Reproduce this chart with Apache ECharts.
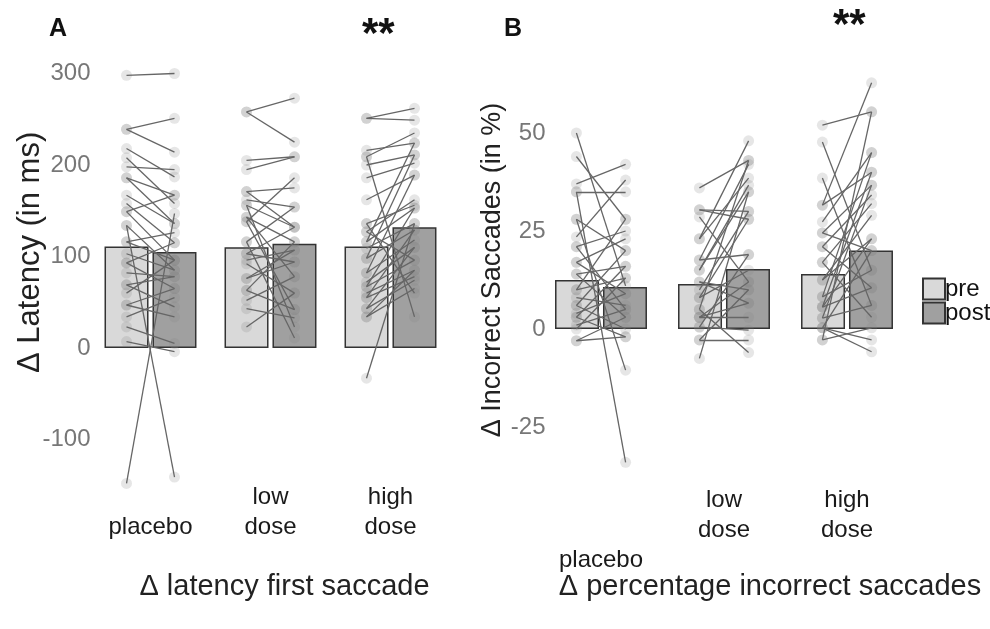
<!DOCTYPE html>
<html>
<head>
<meta charset="utf-8">
<script src="https://cdn.jsdelivr.net/npm/echarts@6/dist/echarts.min.js"></script>
<style>
  html, body { margin: 0; padding: 0; background: #fff; }
  #chart { width: 990px; height: 629px; }
</style>
</head>
<body>
<div id="chart"></div>
<script>
// groups and bar means
const categories = ['placebo', 'low dose', 'high dose'];
const latencyMeanPre = [111, 110, 111];
const latencyMeanPost = [105, 114, 132];
const incorrectMeanPre = [12.5, 11.5, 14];
const incorrectMeanPost = [10.7, 15.3, 20];

// single subjects, delta latency (ms)
const latPlaceboPre = [298, 239, 239, 218, 208, 198, 186, 186, 167, 158, 149, 149, 134, 134, 116, 116, 103, 93, 93, 82, 69, 69, 60, 47, 47, 34, 23, 7, -148];
const latPlaceboPost = [300, 251, 214, 187, 158, 195, 167, 136, 136, 115, 96, 167, -141, 85, 126, 96, 85, 65, 115, 78, 45, 78, 96, 34, 65, 55, 5, -4, 147];
const latLowPre = [258, 258, 205, 195, 171, 171, 162, 156, 156, 143, 143, 138, 138, 116, 116, 103, 103, 96, 92, 76, 76, 63, 63, 52, 43, 23];
const latLowPost = [273, 225, 209, 209, 175, 132, 154, 132, 23, 116, 78, 186, 42, 154, 11, 132, 94, 107, 60, 94, 107, 116, 42, 78, 33, 60];
const latHighPre = [251, 251, 216, 209, 209, 200, 186, 162, 136, 136, 127, 127, 116, 116, 109, 98, 98, 82, 82, 72, 67, 67, 60, 55, 55, 43, 43, 34, 34, -33];
const latHighPost = [262, 249, 224, 235, 34, 211, 202, 189, 156, 60, 162, 96, 153, 224, 136, 129, 211, 118, 189, 110, 96, 153, 85, 78, 129, 74, 110, 65, 85, 136];

// single subjects, delta incorrect saccades (%)
const incPlaceboPre = [50, 44, 37, 35, 35, 28, 28, 23.5, 21, 21, 17, 17, 14, 14, 10, 10, 8, 6, 6, 4, 3, 3, 1, 0, -3, -3];
const incPlaceboPost = [11, 28, 42, 35, -34, -10.5, 20, 38, 25, 5, 23, 9, 16, 3, 28, 13, 6, 20, 0, 9, 16, -2, 5, 13, 3, -2];
const incLowPre = [36, 30.4, 30.4, 28.6, 23, 23, 17.6, 17.6, 15, 15, 12, 10, 8, 8, 5, 3, 3, 3, 0.5, 0.5, -2.8, -2.8, -7.5, 5, 12];
const incLowPost = [43, 30, 28, 12, 48, 38.5, 42, 19, 36.7, 35, 10, 30, 28, 15, 43, 12, 6.6, 3, 19, -0.3, 10, -2.8, 35, -6, 6.6];
const incHighPre = [52, 47.7, 38.5, 31.6, 31.6, 27.3, 24.5, 24.5, 21, 21, 17, 17, 12.5, 12.5, 8.2, 8.2, 5.6, 5.6, 2.8, 2.8, 0.3, 0.3, -2.8, -2.8, 0.3, 5.6];
const incHighPost = [55.4, 15, 6, 62.8, 40, 45, 36.7, 20, 34.2, 10.5, 32, 3, 29, 23, 45, 15, 40, 10.5, 36.7, 6, 20, -2.8, 55.4, 0.3, -5.8, 23];

const latGroups = [[latPlaceboPre, latPlaceboPost], [latLowPre, latLowPost], [latHighPre, latHighPost]];
const incGroups = [[incPlaceboPre, incPlaceboPost], [incLowPre, incLowPost], [incHighPre, incHighPost]];

const FONT = 'Liberation Sans';
const OFF = 0.2;

function pairLines(groups) {
    const out = [];
    groups.forEach((g, i) => {
        g[0].forEach((v, k) => {
            out.push({ coords: [[i + 0.5 - OFF, v], [i + 0.5 + OFF, g[1][k]]] });
        });
    });
    return out;
}
function dots(groups) {
    const out = [];
    groups.forEach((g, i) => {
        g[0].forEach(v => out.push([i + 0.5 - OFF, v]));
        g[1].forEach(v => out.push([i + 0.5 + OFF, v]));
    });
    return out;
}

function catAxis(grid, name, placeboLine, margin, shift) {
    return {
        type: 'category', gridIndex: grid, data: categories,
        axisLine: { show: false, onZero: false }, axisTick: { show: false },
        axisLabel: {
            margin: margin, fontFamily: FONT, fontSize: 24, color: '#1a1a1a', lineHeight: 30,
            formatter: v => v === 'placebo' ? placeboLine + 'placebo' : v.replace(' ', '\n')
        },
        name: name, nameLocation: 'middle', nameGap: 87, nameMoveOverlap: false,
        nameTextStyle: { fontFamily: FONT, fontSize: 29, color: '#222', padding: [0, 0, 0, shift] }
    };
}
function hiddenX(grid) {
    return { type: 'value', gridIndex: grid, min: 0, max: 3, show: false };
}

const barStyle = (color) => ({ color: color, borderColor: '#333', borderWidth: 1.5 });

const chart = echarts.init(document.getElementById('chart'));
chart.setOption({
    backgroundColor: '#fff',
    animation: false,
    title: [
        { text: 'A', left: 44, top: 12, textStyle: { fontFamily: FONT, fontSize: 25, fontWeight: 'bold', color: '#111' } },
        { text: 'B', left: 499, top: 12, textStyle: { fontFamily: FONT, fontSize: 25, fontWeight: 'bold', color: '#111' } },
        { text: '**', left: 357, top: 9, textStyle: { fontFamily: FONT, fontSize: 42, fontWeight: 'bold', color: '#111' } },
        { text: '**', left: 828, top: 0, textStyle: { fontFamily: FONT, fontSize: 42, fontWeight: 'bold', color: '#111' } }
    ],
    legend: {
        data: ['pre', 'post'], orient: 'vertical', left: 922, top: 277, padding: 0,
        itemWidth: 22, itemHeight: 21, itemGap: 0, icon: 'rect',
        textStyle: { fontFamily: FONT, fontSize: 24, color: '#111', padding: [0, 0, 0, -5] }
    },
    grid: [
        { left: 90.5, width: 360, top: 73.5, bottom: 629 - 485.25 },
        { left: 539.5, width: 369, top: 74.2, bottom: 629 - 485.8 }
    ],
    xAxis: [
        catAxis(0, 'Δ latency first saccade', '\n', -3, 28),
        hiddenX(0),
        catAxis(1, 'Δ percentage incorrect saccades', '\n\n', 0, 92),
        hiddenX(1)
    ],
    yAxis: [
        {
            type: 'value', gridIndex: 0, min: -150, max: 300, interval: 50,
            axisLine: { show: false }, axisTick: { show: false }, splitLine: { show: false },
            axisLabel: {
                margin: 0, fontFamily: FONT, fontSize: 24, color: '#777',
                formatter: v => (v % 100 === 0 && v >= -100) ? String(v) : ''
            },
            name: 'Δ Latency (in ms)', nameLocation: 'middle', nameGap: 45, nameMoveOverlap: false,
            nameTextStyle: { fontFamily: FONT, fontSize: 31, color: '#222', padding: [0, 0, 0, 54] }
        },
        {
            type: 'value', gridIndex: 1, min: -40, max: 65, interval: 5,
            axisLine: { show: false }, axisTick: { show: false }, splitLine: { show: false },
            axisLabel: {
                margin: -6, fontFamily: FONT, fontSize: 24, color: '#777',
                formatter: v => (v % 25 === 0 && v >= -25 && v <= 50) ? String(v) : ''
            },
            name: 'Δ Incorrect Saccades (in %)', nameLocation: 'middle', nameGap: 33, nameMoveOverlap: false,
            nameTextStyle: { fontFamily: FONT, fontSize: 27, color: '#222', padding: [0, 0, 0, 20] }
        }
    ],
    series: [
        { name: 'pre', type: 'bar', xAxisIndex: 0, yAxisIndex: 0, data: latencyMeanPre, barWidth: 44, barGap: '9%', itemStyle: barStyle('#d9d9d9'), z: 1 },
        { name: 'post', type: 'bar', xAxisIndex: 0, yAxisIndex: 0, data: latencyMeanPost, barWidth: 44, barGap: '9%', itemStyle: barStyle('#a0a0a0'), z: 1 },
        { name: 'pre', type: 'bar', xAxisIndex: 2, yAxisIndex: 1, data: incorrectMeanPre, barWidth: 44, barGap: '9%', itemStyle: barStyle('#d9d9d9'), z: 1 },
        { name: 'post', type: 'bar', xAxisIndex: 2, yAxisIndex: 1, data: incorrectMeanPost, barWidth: 44, barGap: '9%', itemStyle: barStyle('#a0a0a0'), z: 1 },
        {
            type: 'scatter', xAxisIndex: 1, yAxisIndex: 0, data: dots(latGroups), symbolSize: 11, clip: false,
            itemStyle: { color: 'rgba(128,128,128,0.25)' }, z: 2
        },
        {
            type: 'scatter', xAxisIndex: 3, yAxisIndex: 1, data: dots(incGroups), symbolSize: 11, clip: false,
            itemStyle: { color: 'rgba(128,128,128,0.25)' }, z: 2
        },
        {
            type: 'lines', coordinateSystem: 'cartesian2d', xAxisIndex: 1, yAxisIndex: 0, data: pairLines(latGroups),
            clip: false, lineStyle: { color: '#666', width: 1.3, opacity: 1 }, z: 3
        },
        {
            type: 'lines', coordinateSystem: 'cartesian2d', xAxisIndex: 3, yAxisIndex: 1, data: pairLines(incGroups),
            clip: false, lineStyle: { color: '#666', width: 1.3, opacity: 1 }, z: 3
        }
    ]
});
</script>
</body>
</html>
